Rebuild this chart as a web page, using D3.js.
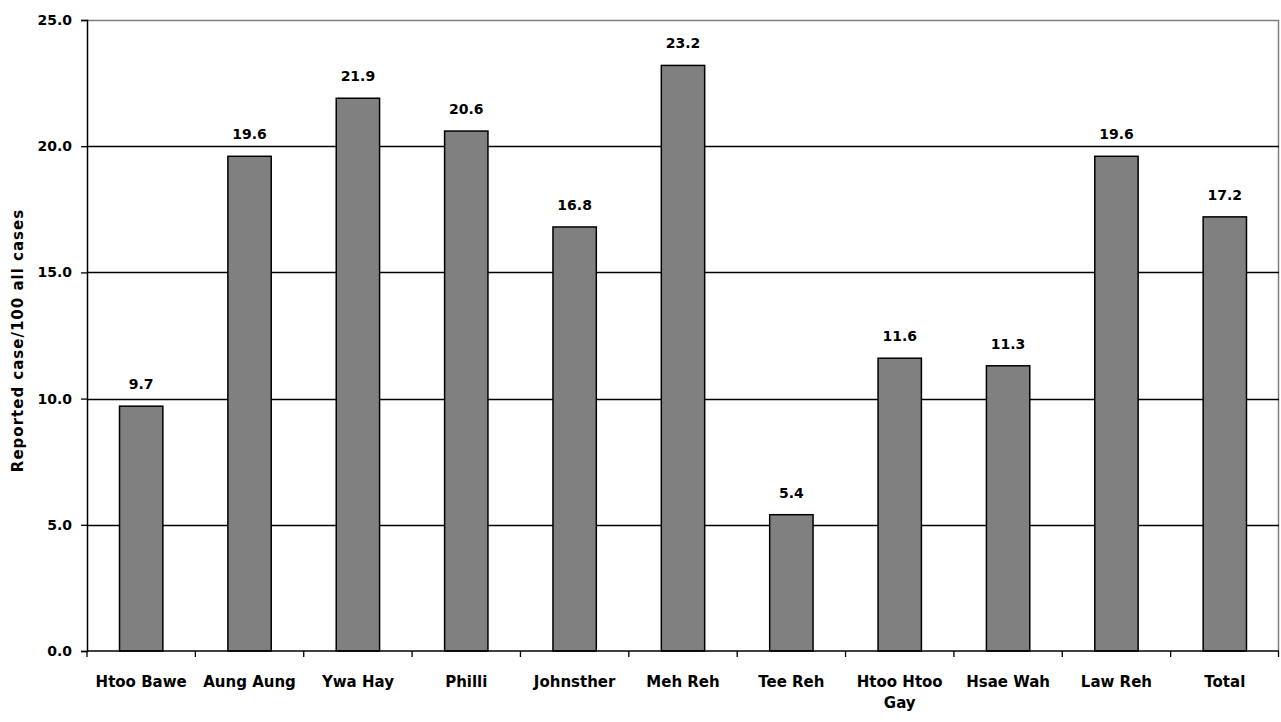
<!DOCTYPE html>
<html>
<head>
<meta charset="utf-8">
<script src="https://cdn.jsdelivr.net/npm/d3@7"></script>
<style>
  html, body { margin: 0; padding: 0; background: #fff; }
  svg { display: block; font-family: "DejaVu Sans", sans-serif; font-weight: bold; }
</style>
</head>
<body>
<svg id="chart" width="1281" height="722"></svg>
<script>
// Reported cases per 100 of all cases, by site
const categories = ["Htoo Bawe", "Aung Aung", "Ywa Hay", "Philli", "Johnsther", "Meh Reh",
                    "Tee Reh", "Htoo Htoo Gay", "Hsae Wah", "Law Reh", "Total"];
const values = [9.7, 19.6, 21.9, 20.6, 16.8, 23.2, 5.4, 11.6, 11.3, 19.6, 17.2];
const yTicks = [0, 5, 10, 15, 20, 25];
const yTitle = "Reported case/100 all cases";

const W = 1281, H = 722;
const margin = { top: 20, right: 2, bottom: 71, left: 87 };
const innerW = W - margin.left - margin.right;
const innerH = H - margin.top - margin.bottom;

const svg = d3.select("#chart");
const g = svg.append("g").attr("transform", `translate(${margin.left},${margin.top})`);

const x = d3.scaleBand().domain(categories).range([0, innerW]).paddingInner(0.6).paddingOuter(0.3);
const xTicks = d3.scaleBand().domain(categories).range([0, innerW]);
const y = d3.scaleLinear().domain([0, 25]).range([innerH, 0]);

// plot frame (top and right edges)
g.append("path")
  .attr("d", `M0,0.5H${innerW - 0.5}V${innerH}`)
  .attr("fill", "none").attr("stroke", "#808080").attr("stroke-width", 1.5);

// horizontal gridlines
g.selectAll(".grid").data(yTicks.filter(t => t > 0 && t < 25)).enter().append("line")
  .attr("x1", 0).attr("x2", innerW)
  .attr("y1", d => Math.round(y(d)) + 0.5).attr("y2", d => Math.round(y(d)) + 0.5)
  .attr("stroke", "#000").attr("stroke-width", 1.4);

// bars
g.selectAll(".bar").data(values).enter().append("rect")
  .attr("x", (d, i) => x(categories[i]))
  .attr("y", d => y(d))
  .attr("width", x.bandwidth())
  .attr("height", d => innerH - y(d))
  .attr("fill", "#808080").attr("stroke", "#000").attr("stroke-width", 1.5);

// value labels
g.selectAll(".val").data(values).enter().append("text")
  .attr("x", (d, i) => x(categories[i]) + x.bandwidth() / 2)
  .attr("y", d => y(d) - 17)
  .attr("text-anchor", "middle")
  .attr("font-size", 14)
  .text(d => d.toFixed(1));

// y axis
const yAxis = g.append("g").call(
  d3.axisLeft(y).tickValues(yTicks).tickFormat(d3.format(".1f")).tickSize(6).tickPadding(9)
);
yAxis.select(".domain").attr("stroke", "#000").attr("stroke-width", 1.5);
yAxis.selectAll(".tick line").attr("stroke", "#000").attr("stroke-width", 1.3);
yAxis.selectAll("text").attr("font-size", 14).attr("font-weight", "bold")
  .attr("font-family", "DejaVu Sans, sans-serif").attr("fill", "#000");

// x axis with category boundaries as ticks
const xAxis = g.append("g").attr("transform", `translate(0,${innerH})`);
xAxis.append("line").attr("x1", 0).attr("x2", innerW).attr("y1", 0).attr("y2", 0)
  .attr("stroke", "#000").attr("stroke-width", 1.5);
const bounds = categories.map(c => xTicks(c)).concat([innerW]);
xAxis.selectAll(".xt").data(bounds).enter().append("line")
  .attr("x1", d => Math.min(d, innerW - 0.5)).attr("x2", d => Math.min(d, innerW - 0.5))
  .attr("y1", 0).attr("y2", 6).attr("stroke", "#000").attr("stroke-width", 1.3);

const labels = xAxis.selectAll(".xl").data(categories).enter().append("text")
  .attr("x", d => xTicks(d) + xTicks.bandwidth() / 2)
  .attr("y", 36)
  .attr("text-anchor", "middle")
  .attr("font-size", 15);

// wrap long category names onto a second line
labels.each(function (d) {
  const t = d3.select(this);
  const cx = +t.attr("x");
  const words = d.split(" ");
  let line = [];
  let tspan = t.append("tspan").attr("x", cx);
  words.forEach(w => {
    line.push(w);
    tspan.text(line.join(" "));
    if (tspan.node().getComputedTextLength() > xTicks.bandwidth() - 4 && line.length > 1) {
      line.pop();
      tspan.text(line.join(" "));
      line = [w];
      tspan = t.append("tspan").attr("x", cx).attr("dy", 21).text(w);
    }
  });
});

// y axis title
svg.append("text")
  .attr("transform", `translate(23,${margin.top + innerH / 2 + 5}) rotate(-90)`)
  .attr("text-anchor", "middle")
  .attr("font-size", 15)
  .attr("letter-spacing", 1)
  .text(yTitle);
</script>
</body>
</html>
